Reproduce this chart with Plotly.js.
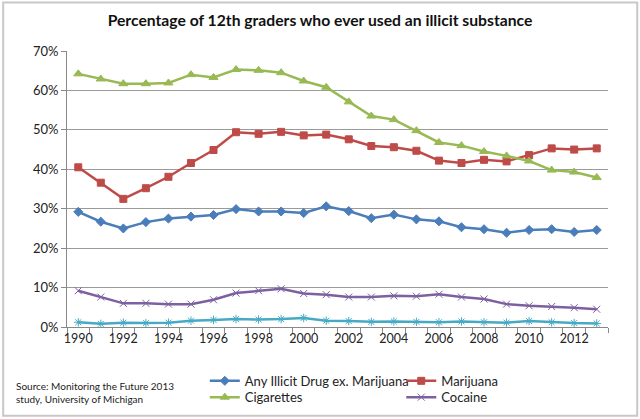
<!DOCTYPE html>
<html><head><meta charset="utf-8">
<script src="https://cdn.plot.ly/plotly-3.0.1.min.js"></script>
<style>html,body{margin:0;padding:0;background:#fff}#chart{width:640px;height:419px}</style>
</head><body><div id="chart"></div>
<script>
const years = [1990,1991,1992,1993,1994,1995,1996,1997,1998,1999,2000,2001,2002,2003,2004,2005,2006,2007,2008,2009,2010,2011,2012,2013];
const anyIllicit = [29.2,26.7,25.0,26.6,27.5,28.0,28.4,29.9,29.3,29.3,28.9,30.6,29.4,27.6,28.5,27.3,26.8,25.3,24.8,23.9,24.6,24.8,24.1,24.6];
const marijuana = [40.5,36.6,32.5,35.2,38.1,41.6,44.9,49.4,49.0,49.5,48.6,48.8,47.6,45.9,45.6,44.7,42.2,41.6,42.4,42.0,43.6,45.3,45.0,45.3];
const cigarettes = [64.2,62.9,61.7,61.7,61.9,64.0,63.3,65.3,65.1,64.5,62.4,60.8,57.1,53.5,52.6,49.8,46.8,46.0,44.5,43.4,42.1,39.8,39.3,37.9];
const cocaine = [9.2,7.6,6.0,6.0,5.8,5.8,6.9,8.6,9.2,9.7,8.5,8.2,7.6,7.6,7.9,7.8,8.3,7.6,7.1,5.8,5.4,5.2,4.9,4.5];
const heroin = [1.2,0.8,1.1,1.0,1.1,1.6,1.8,2.0,1.9,2.0,2.3,1.6,1.5,1.3,1.4,1.3,1.2,1.4,1.2,1.1,1.5,1.2,1.0,0.9];
const yTicks = [0,10,20,30,40,50,60,70];
const yTickText = ['0%','10%','20%','30%','40%','50%','60%','70%'];
const xTicks = [1990,1992,1994,1996,1998,2000,2002,2004,2006,2008,2010,2012];

function tr(name, y, color, symbol, size, extra) {
  return Object.assign({
    type:'scatter', mode:'lines+markers', name:name, x:years, y:y,
    line:{color:color, width:2.5},
    marker:{symbol:symbol, size:size, color:color, line:{color:color, width:1}}
  }, extra||{});
}
const data = [
  tr('Any Illicit Drug ex. Marijuana', anyIllicit, '#4a7ebb', 'diamond', 7, {legend:'legend'}),
  tr('Marijuana', marijuana, '#be4b48', 'square', 7, {legend:'legend2'}),
  tr('Cigarettes', cigarettes, '#98b954', 'triangle-up', 8, {legend:'legend3'}),
  tr('Cocaine', cocaine, '#7d60a0', 'x-thin-open', 7, {legend:'legend4', marker:{symbol:'x-thin-open', size:7, color:'#7d60a0', line:{color:'#a898c8', width:1}}}),
  tr('Heroin', heroin, '#46aac5', 'asterisk-open', 7, {showlegend:false, marker:{symbol:'asterisk-open', size:7, color:'#46aac5', line:{color:'#8ccde0', width:1}}})
];
const legBase = {xref:'container', yref:'container', xanchor:'left', yanchor:'middle', orientation:'v',
  font:{size:13, color:'#222'}, itemwidth:30, bgcolor:'rgba(0,0,0,0)', borderwidth:0};
const col1 = 0.32, col2 = 0.627, row1 = 0.091, row2 = 0.052;
const layout = {
  width:640, height:419,
  margin:{l:67, r:32, t:51, b:92, autoexpand:false},
  paper_bgcolor:'#fff', plot_bgcolor:'#fff',
  font:{family:'Lato, "Open Sans", sans-serif', size:12, color:'#222'},
  title:{text:'<b>Percentage of 12th graders who ever used an illicit substance</b>', x:0.5, xanchor:'center', y:0.95, yanchor:'middle', font:{size:15.7, color:'#111'}},
  xaxis:{range:[1989.5,2013.5], tickvals:xTicks, ticktext:xTicks.map(String), ticks:'', showgrid:false, zeroline:false,
    showline:true, linecolor:'#888', linewidth:1, automargin:false,
    minor:{tick0:1989.5, dtick:1, ticks:'outside', ticklen:5, tickcolor:'#888', showgrid:false},
    tickfont:{size:12.5, color:'#222'}},
  yaxis:{range:[0,70], tickvals:yTicks, ticktext:yTickText, ticks:'outside', ticklen:5, tickcolor:'#888', automargin:false,
    showgrid:true, gridcolor:'#9a9a9a', gridwidth:1, zeroline:false, showline:true, linecolor:'#888', linewidth:1,
    tickfont:{size:13, color:'#222'}},
  showlegend:true,
  legend: Object.assign({}, legBase, {x:col1, y:row1}),
  legend2: Object.assign({}, legBase, {x:col2, y:row1}),
  legend3: Object.assign({}, legBase, {x:col1, y:row2}),
  legend4: Object.assign({}, legBase, {x:col2, y:row2}),
  annotations:[
    {text:'Source: Monitoring the Future 2013<br>study, University of Michigan', xref:'paper', yref:'paper',
     x:-0.098, y:-0.236, xanchor:'left', yanchor:'middle', align:'left', showarrow:false, font:{size:10, color:'#222'}}
  ],
  shapes:[
    {type:'rect', xref:'paper', yref:'paper', x0:-0.118, x1:1.054, y0:-0.322, y1:1.176, line:{color:'#c8c8c8', width:2}, fillcolor:'rgba(0,0,0,0)'}
  ]
};
Plotly.newPlot('chart', data, layout, {displayModeBar:false, staticPlot:true});
</script>
</body></html>
